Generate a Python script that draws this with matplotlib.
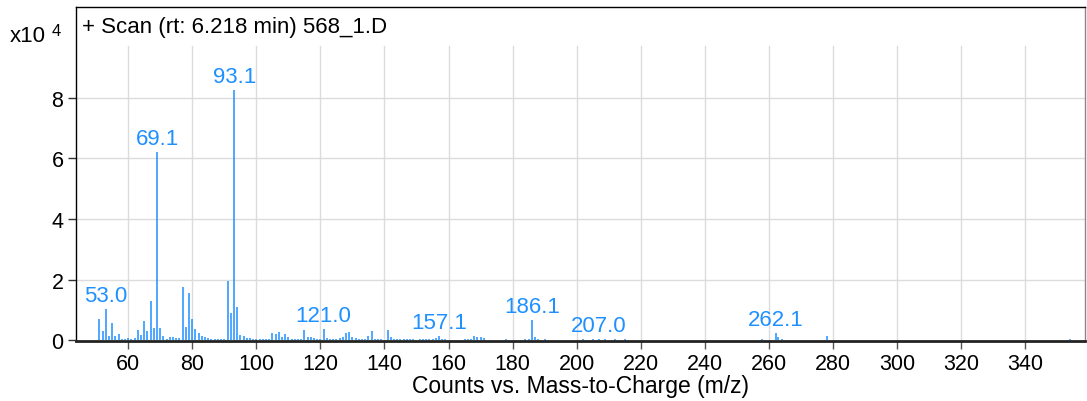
import matplotlib
matplotlib.use("Agg")
import matplotlib.pyplot as plt

plt.rcParams['font.family'] = ['Liberation Sans', 'DejaVu Sans']

mz = [51, 52, 53.0, 54, 55, 56, 57, 58, 59, 60, 61, 62, 63, 64, 65, 66, 67, 68,
      69.1, 70, 71, 72, 73, 74, 75, 76, 77, 78, 79, 80, 81, 82, 83, 84, 85, 86,
      87, 88, 89, 90, 91, 92, 93.1, 94, 95, 96, 97, 98, 99, 100, 101, 102, 103,
      104, 105, 106, 107, 108, 109, 110, 111, 112, 113, 114, 115, 116, 117, 118,
      119, 120, 121.0, 122, 123, 124, 125, 126, 127, 128, 129, 130, 131, 132,
      133, 134, 135, 136, 137, 138, 139, 141, 142, 143, 144, 145, 146, 147, 148,
      149, 151, 152, 153, 154, 155, 156, 157.1, 158, 159, 165, 166, 167, 168,
      169, 170, 171, 178, 184, 185, 186.1, 187, 188, 190, 202, 205, 207.0, 209,
      212, 215, 258, 262.1, 263, 264, 278, 354]
intensity = [0.69, 0.31, 1.02, 0.15, 0.55, 0.15, 0.20, 0.05, 0.05, 0.06, 0.04,
             0.07, 0.33, 0.17, 0.62, 0.30, 1.30, 0.41, 6.21, 0.39, 0.15, 0.05,
             0.09, 0.11, 0.07, 0.07, 1.74, 0.43, 1.54, 0.69, 0.35, 0.22, 0.13,
             0.09, 0.07, 0.05, 0.05, 0.03, 0.04, 0.03, 1.94, 0.91, 8.26, 1.08,
             0.17, 0.12, 0.07, 0.07, 0.05, 0.03, 0.04, 0.04, 0.05, 0.03, 0.25,
             0.20, 0.27, 0.10, 0.20, 0.10, 0.05, 0.04, 0.04, 0.05, 0.34, 0.10,
             0.10, 0.07, 0.05, 0.05, 0.38, 0.08, 0.05, 0.05, 0.05, 0.07, 0.10,
             0.23, 0.26, 0.10, 0.07, 0.05, 0.05, 0.04, 0.15, 0.30, 0.05, 0.05,
             0.05, 0.33, 0.10, 0.05, 0.04, 0.05, 0.03, 0.04, 0.03, 0.04, 0.03,
             0.04, 0.05, 0.04, 0.05, 0.06, 0.14, 0.05, 0.02, 0.03, 0.04, 0.05,
             0.12, 0.10, 0.10, 0.06, 0.05, 0.03, 0.05, 0.67, 0.10, 0.04, 0.02,
             0.02, 0.02, 0.05, 0.02, 0.02, 0.02, 0.03, 0.25, 0.10, 0.04, 0.12,
             0.03]

label_mz = [53.0, 69.1, 93.1, 121.0, 157.1, 186.1, 207.0, 262.1]
label_text = ["53.0", "69.1", "93.1", "121.0", "157.1", "186.1", "207.0", "262.1"]

x_ticks = list(range(60, 341, 20))
y_ticks = [0, 2, 4, 6, 8]

title = "+ Scan (rt: 6.218 min) 568_1.D"
xlabel = "Counts vs. Mass-to-Charge (m/z)"

W, H = 1087, 402
fig = plt.figure(figsize=(W / 100, H / 100), dpi=100)
ax = fig.add_axes([76 / W, 1 - 342 / H, (1085 - 76) / W, (342 - 8) / H])

blue = '#1e90ff'
ax.set_xlim(43.7, 358.7)
ax.set_ylim(-0.03, 11.0)

# grid
top_frac = (9.7 + 0.03) / 11.03
for xt in x_ticks:
    ax.axvline(xt, ymin=0, ymax=top_frac, color='#dcdcdc', lw=1, zorder=0)
for yt in y_ticks[1:]:
    ax.axhline(yt, color='#dcdcdc', lw=1, zorder=0)

ax.vlines(mz, 0, intensity, color=blue, lw=1.1, zorder=2)

inten_map = dict(zip(mz, intensity))
for m, t in zip(label_mz, label_text):
    ax.annotate(t, xy=(m, inten_map[m]), xytext=(0, 2), textcoords='offset points',
                ha='center', va='bottom', color=blue, fontsize=16, zorder=3)

ax.set_xticks(x_ticks)
ax.set_yticks(y_ticks)
ax.tick_params(axis='x', direction='out', length=6, width=1, color='#555555',
               labelsize=15.5, pad=3)
ax.tick_params(axis='y', direction='out', length=6, width=1, color='#333333',
               labelsize=15.5, pad=3)

for s in ['left', 'top', 'right']:
    ax.spines[s].set_color('black')
    ax.spines[s].set_linewidth(1)
ax.spines['right'].set_color('#888888')
ax.spines['bottom'].set_color('#222222')
ax.spines['bottom'].set_linewidth(2)

ax.text(6 / (1085 - 76), 1 - 20 / (342 - 8), title, transform=ax.transAxes,
        ha='left', va='center', fontsize=16)

ax.set_xlabel(xlabel, fontsize=16.5, labelpad=0)

fig.text(10 / W, 1 - 37 / H, "x10", ha='left', va='center', fontsize=16)
fig.text(52 / W, 1 - 32 / H, "4", ha='left', va='center', fontsize=12)

fig.savefig("out.png", dpi=100)
